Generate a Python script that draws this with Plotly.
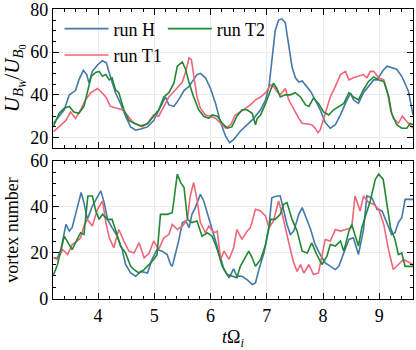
import plotly.graph_objects as go

# ---------------- data ----------------
t_top_H = [3.21,3.40,3.49,3.54,3.60,3.66,3.74,3.80,3.84,3.90,3.99,4.08,4.15,4.18,4.22,4.31,4.40,4.49,4.58,4.67,
           4.76,4.88,4.99,5.11,5.20,5.26,5.35,5.44,5.53,5.62,5.67,5.76,5.82,5.91,6.00,6.09,6.18,6.27,6.34,6.41,
           6.53,6.65,6.77,6.89,6.98,7.04,7.09,7.15,7.21,7.27,7.33,7.36,7.41,7.45,7.51,7.57,7.63,7.69,7.78,7.86,
           7.95,8.04,8.13,8.22,8.31,8.40,8.49,8.54,8.63,8.72,8.81,8.90,8.96,9.02,9.07,9.14,9.22,9.31,9.40,9.46,
           9.52,9.56,9.60]
u_H = [26.7,33,40,41,42,47,51.5,49.5,45.5,51,54,56,55,52,48.7,41,36,30,25,23.5,
       24,25,28,34.6,39,35.3,34.6,38,42,44,46,49.5,50,48,43,36,27,20.5,17.6,19,
       23,26,29,33,37.7,44,56.5,70,75,75.6,73.7,69,61,53,48,46,46.5,44.7,41.6,37.7,
       33,27,24.4,26,30.6,36,41,37.7,36,41,44,47,47,49.5,51.5,53.4,52.7,52,48.7,45.5,
       41.6,36,30.6]

t_top_T1 = [3.21,3.31,3.43,3.51,3.60,3.69,3.78,3.87,3.99,4.05,4.14,4.22,4.31,4.43,4.52,4.61,4.70,4.79,4.88,4.99,
            5.08,5.17,5.26,5.35,5.44,5.50,5.56,5.62,5.66,5.70,5.76,5.82,5.91,6.00,6.09,6.18,6.27,6.36,6.44,6.53,
            6.62,6.71,6.80,6.89,6.98,7.07,7.12,7.18,7.24,7.30,7.33,7.39,7.48,7.57,7.63,7.72,7.80,7.86,7.91,7.95,
            8.04,8.13,8.22,8.31,8.40,8.46,8.54,8.63,8.72,8.78,8.84,8.90,8.99,9.08,9.14,9.20,9.25,9.34,9.41,9.49,
            9.60]
u_T1 = [22.8,25,28,32,29,33,37.7,41,43,41.6,39,34.6,33.8,33,30.6,27.5,26,25,26.7,30.6,
        30,34.6,39,41.6,44,46,51,57.3,56.5,50,39,33.8,30.6,30,29,26.7,24.4,26,30.6,32,
        33.8,35.3,37.7,39,41,44.7,44,41.6,40,42,43,37.7,33,29,26.7,26.4,26,24.4,22.3,23.6,
        31.4,39,44,49.5,51,47,48,48.7,49.5,48,51,51,48,47,42,33,29,26.7,30,27.5,
        24.4]

t_top_T2 = [3.21,3.31,3.40,3.49,3.57,3.66,3.75,3.82,3.88,3.96,4.02,4.08,4.14,4.20,4.25,4.31,4.37,4.46,4.55,4.64,
            4.76,4.88,4.99,5.08,5.17,5.26,5.35,5.41,5.50,5.56,5.62,5.70,5.79,5.88,5.97,6.03,6.12,6.21,6.30,6.38,
            6.47,6.56,6.65,6.74,6.80,6.83,6.89,6.98,7.07,7.12,7.18,7.24,7.33,7.42,7.51,7.60,7.69,7.75,7.83,7.92,
            8.01,8.10,8.19,8.28,8.37,8.46,8.54,8.63,8.72,8.81,8.90,8.99,9.08,9.17,9.22,9.31,9.40,9.49,9.55,9.60]
u_T2 = [25.5,31.4,33.8,34.6,32,31.4,34.6,42.4,48.7,50.5,51,48.7,49.5,47,48,42.4,41,33,28,26.7,
        25.5,26.4,30,33,39,41,45.5,53.4,55.4,51.8,45.5,39,33,30,29,30.6,30,26.7,24.4,25,
        30,33,33,31.4,26,29,30.6,36,42.4,45.5,43,39,40,40,41,39,35.3,34.6,38.5,36,
        32,30.6,33,34.6,36,41,39,37.7,42.4,46.3,48.4,47,46.3,39,31.4,26,24.4,24.4,26.7,26]

t_bot_H = [3.21,3.28,3.34,3.43,3.49,3.54,3.63,3.70,3.75,3.81,3.90,3.99,4.05,4.11,4.17,4.25,4.34,4.43,4.49,4.58,
           4.67,4.76,4.88,4.96,5.05,5.14,5.23,5.29,5.32,5.38,5.44,5.50,5.56,5.62,5.67,5.73,5.82,5.88,5.94,6.00,
           6.06,6.15,6.24,6.33,6.41,6.47,6.56,6.65,6.74,6.80,6.86,6.95,7.04,7.09,7.18,7.24,7.30,7.36,7.42,7.48,
           7.57,7.63,7.69,7.78,7.86,7.95,8.04,8.13,8.22,8.28,8.37,8.46,8.54,8.63,8.72,8.78,8.87,8.96,9.05,9.14,
           9.22,9.28,9.34,9.40,9.46,9.60]
n_H = [17.9,17.9,21.5,32.4,29.5,31,39.6,46.3,41.9,34.6,40.4,44,47,41.9,34.6,31,27.3,21.5,15,11.3,
       9.9,12,11.3,17.2,21.5,20.8,19.3,15,14.2,20,25.9,33.2,33.9,31,36.8,39.7,45.5,42.6,37.5,33.2,
       27.3,20,12.8,9.2,13.1,9.9,9.9,8.4,6.3,7,12.8,20,31.7,44,44.8,44.8,39,32.4,28,29.5,
       36.8,39.7,36,30.2,23.7,19.3,15.7,14.2,12.8,14.2,20,25.9,26.6,19.3,30.2,44.8,44,39,38.3,32.4,
       28,28.8,33.2,35.3,43.3,43.3]

t_bot_T1 = [3.21,3.28,3.37,3.46,3.54,3.63,3.69,3.75,3.81,3.90,3.99,4.08,4.14,4.20,4.28,4.37,4.46,4.55,4.64,4.73,
            4.82,4.91,4.99,5.08,5.17,5.26,5.32,5.41,5.50,5.59,5.64,5.70,5.76,5.82,5.91,5.97,6.06,6.12,6.18,6.24,
            6.33,6.41,6.47,6.56,6.65,6.71,6.80,6.89,6.98,7.04,7.12,7.21,7.27,7.36,7.42,7.48,7.54,7.60,7.66,7.75,
            7.83,7.92,7.98,8.04,8.13,8.22,8.31,8.43,8.51,8.57,8.66,8.72,8.81,8.90,8.99,9.08,9.17,9.25,9.34,9.43,
            9.49,9.60]
n_T1 = [17.9,17.2,21.5,19.3,23.7,25.2,26.6,31.7,34.6,31.7,39,42.6,33.2,26.6,22.3,30.2,25.2,20.8,20,24.4,
        17.9,20,25.2,21.5,26.6,28,32.4,30.2,31.7,34.6,44.8,50.6,43.3,33.2,28.8,31.7,28.8,29.5,17.2,20.8,
        17.2,22.3,30.2,25.9,29.5,31,39,38.3,36,31,33.9,42.6,37.5,27.3,21.5,15.7,12,15,11.3,15,
        10.6,11.3,18.6,25.9,25.2,30.2,29.5,30.2,31,44.8,38.3,44.8,41.9,41.2,39,32.4,20.8,12.8,15,17.2,
        16.4,15]

t_bot_T2 = [3.21,3.28,3.40,3.49,3.54,3.63,3.69,3.75,3.82,3.90,3.96,4.02,4.08,4.17,4.25,4.31,4.40,4.49,4.58,4.64,
            4.73,4.82,4.91,4.99,5.05,5.11,5.17,5.23,5.32,5.36,5.41,5.47,5.53,5.59,5.67,5.76,5.85,5.94,6.03,6.12,
            6.21,6.30,6.38,6.47,6.53,6.62,6.68,6.74,6.80,6.89,6.98,7.07,7.15,7.24,7.30,7.36,7.45,7.54,7.63,7.72,
            7.80,7.89,7.98,8.07,8.13,8.22,8.31,8.37,8.46,8.51,8.57,8.63,8.69,8.75,8.84,8.93,8.99,9.07,9.14,9.20,
            9.28,9.34,9.40,9.46,9.60]
n_T2 = [10.6,15,27.3,23.7,21.5,25.9,28.8,28,44.8,44.8,38.3,34.6,36.8,34.6,34.6,30.2,23,20,14.2,12.8,
        11.3,12.8,15,17.2,19.3,36.8,36.8,36.8,37.5,44.8,54.3,50.6,48.4,34.6,33.2,33.9,27.3,28.8,27.3,21.5,
        14.2,10.6,9.9,9.2,14.2,18.6,20.8,17.9,14.2,17.2,23.7,34.6,34.6,36.8,41.2,41.9,34.6,29.5,20.8,20,
        24.4,19.3,15,18.6,23.7,23,25.2,20.8,29.5,32.4,28,23,31,36,42.6,52,54.3,52,39.7,31,
        25.9,19.3,20,14.2,14.2]

x_ticks = [4, 5, 6, 7, 8, 9]
colors = {"run H": "#4477AA", "run T1": "#EE6677", "run T2": "#228833"}

FONT = "Liberation Serif"
fig = go.Figure()

LW = 1.6
# top panel
fig.add_trace(go.Scatter(x=t_top_H, y=u_H, mode="lines", name="run H", xaxis="x2", yaxis="y2",
                         line=dict(color=colors["run H"], width=LW), legend="legend", legendgroup="a"))
fig.add_trace(go.Scatter(x=t_top_T1, y=u_T1, mode="lines", name="run T1", xaxis="x2", yaxis="y2",
                         line=dict(color=colors["run T1"], width=LW), legend="legend", legendgroup="b"))
fig.add_trace(go.Scatter(x=t_top_T2, y=u_T2, mode="lines", name="run T2", xaxis="x2", yaxis="y2",
                         line=dict(color=colors["run T2"], width=LW), legend="legend2", legendgroup="c"))
# bottom panel
fig.add_trace(go.Scatter(x=t_bot_H, y=n_H, mode="lines", name="run H", xaxis="x", yaxis="y",
                         line=dict(color=colors["run H"], width=LW), showlegend=False))
fig.add_trace(go.Scatter(x=t_bot_T1, y=n_T1, mode="lines", name="run T1", xaxis="x", yaxis="y",
                         line=dict(color=colors["run T1"], width=LW), showlegend=False))
fig.add_trace(go.Scatter(x=t_bot_T2, y=n_T2, mode="lines", name="run T2", xaxis="x", yaxis="y",
                         line=dict(color=colors["run T2"], width=LW), showlegend=False))

ax_common = dict(showline=True, linecolor="black", linewidth=1.2, mirror="allticks",
                 ticks="inside", ticklen=6, tickwidth=1, tickcolor="black", automargin=False,
                 ticklabeloverflow="allow",
                 showgrid=True, gridcolor="#ebebeb", gridwidth=0.8, zeroline=False,
                 tickfont=dict(family=FONT, size=18, color="black"))

fig.update_layout(
    width=416, height=350,
    margin=dict(l=53, r=3, t=9, b=51, autoexpand=False),
    paper_bgcolor="white", plot_bgcolor="white",
    font=dict(family=FONT, size=18, color="black"),
    xaxis=dict(**ax_common, domain=[0, 1], anchor="y", range=[3.2, 9.6],
               tickvals=x_ticks,
               minor=dict(ticks="inside", ticklen=3, dtick=0.2, tick0=0, tickcolor="black", showgrid=False),
               title=dict(text="<i>t</i>Ω<sub><i>i</i></sub>", standoff=6,
                          font=dict(family=FONT, size=18))),
    yaxis=dict(**ax_common, domain=[0, 0.476], anchor="x", range=[0, 60], dtick=20,
               minor=dict(ticks="inside", ticklen=3, dtick=5, tickcolor="black", showgrid=False),
               title=dict(text="vortex number", standoff=6, font=dict(family=FONT, size=18))),
    xaxis2=dict(**ax_common, domain=[0, 1], anchor="y2", range=[3.2, 9.6], matches="x",
                tickvals=x_ticks, showticklabels=False,
                minor=dict(ticks="inside", ticklen=3, dtick=0.2, tick0=0, tickcolor="black", showgrid=False)),
    yaxis2=dict(**ax_common, domain=[0.522, 1], anchor="x2", range=[15.3, 80.2], tickvals=[20, 40, 60, 80],
                minor=dict(ticks="inside", ticklen=3, dtick=5, tick0=0, tickcolor="black", showgrid=False),
                title=dict(text="<i>U</i><sub><i>B</i><sub><i>W</i></sub></sub>/<i>U</i><sub><i>B</i><sub>0</sub></sub>",
                           standoff=8, font=dict(family=FONT, size=21))),
    legend=dict(x=0.018, y=0.995, xanchor="left", yanchor="top", bgcolor="rgba(0,0,0,0)",
                font=dict(family=FONT, size=18), traceorder="grouped", tracegroupgap=0, itemwidth=44),
    legend2=dict(x=0.305, y=0.995, xanchor="left", yanchor="top", bgcolor="rgba(0,0,0,0)",
                 font=dict(family=FONT, size=18), itemwidth=44),
)

fig.write_html("out.html", config={"displayModeBar": False},
               post_script="document.body.style.margin='0';")
